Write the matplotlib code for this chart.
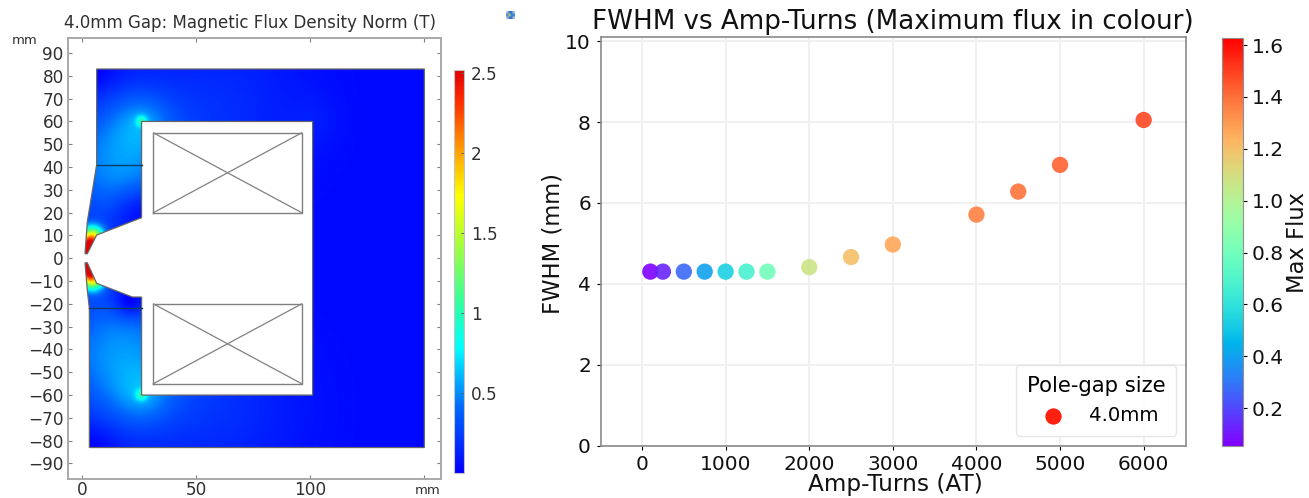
import numpy as np
import matplotlib
matplotlib.use("Agg")
import matplotlib.pyplot as plt
from matplotlib.colors import LinearSegmentedColormap, Normalize
from matplotlib.cm import ScalarMappable
from matplotlib.patches import Polygon

W, H = 1309, 498

# Right panel data
amp_turns = [100, 250, 500, 750, 1000, 1250, 1500, 2000, 2500, 3000, 4000, 4500, 5000, 6000]
fwhm = [4.3, 4.3, 4.3, 4.3, 4.3, 4.3, 4.3, 4.41, 4.66, 4.97, 5.71, 6.28, 6.94, 8.05]
max_flux = [0.056, 0.13, 0.27, 0.40, 0.54, 0.67, 0.80, 1.07, 1.20, 1.27, 1.36, 1.39, 1.43, 1.48]
x_ticks_right = [0, 1000, 2000, 3000, 4000, 5000, 6000]
y_ticks_right = [0, 2, 4, 6, 8, 10]
cbar_ticks_right = [0.2, 0.4, 0.6, 0.8, 1.0, 1.2, 1.4, 1.6]

# Left panel geometry (mm)
iron_x = [6.3, 150, 150, 3.1, 3.1, 2.2, 1.2, 2.2, 6.3, 22, 26, 26, 101, 101, 26, 26, 6.3, 2.2, 1.2, 2.2, 6.3]
iron_y = [83, 83, -83, -83, -22, -14, -2, -2, -11, -17, -17, -60, -60, 60, 60, 17.8, 10.2, 2, 2, 16, 41]
coil_x = [31.2, 96.2]
coil_upper_y = [20, 55]
coil_lower_y = [-55, -20]
seam_y = [41, -22]
seam_x0 = [6.3, 3.1]
seam_x1 = [26, 26]
left_x_ticks = [0, 50, 100, 150]
left_x_labels = ["0", "50", "100", ""]
left_y_ticks = list(range(-90, 91, 10))
left_cbar_ticks = [0.5, 1, 1.5, 2, 2.5]
left_cbar_labels = ["0.5", "1", "1.5", "2", "2.5"]

# Local flux levels seen in the picture: centre (mm), level (T), spread (mm)
spot_x = [2.2, 4.5, 2.2, 4.5, 26, 26, 26, 26, 16, 16, 60, 60, 101, 24, 21, 5, 5]
spot_y = [3.0, 9.0, -3.0, -9.0, 60, -60, 60, -60, 42, -42, 66, -66, 60, 21, -19, 82, -82]
spot_b = [2.3, 1.35, 2.3, 1.35, 0.45, 0.45, 0.20, 0.20, 0.48, 0.48, 0.14, 0.14, 0.05, -0.20, -0.30, -0.10, -0.10]
spot_w = [4.0, 3.6, 4.0, 3.6, 1.7, 1.7, 9, 9, 20, 22, 26, 26, 8, 7, 5, 7, 7]
flux_floor = 0.03

fig = plt.figure(figsize=(W / 100, H / 100), dpi=100)


def px_axes(x0, y_top, x1, y_bot):
    return fig.add_axes([x0 / W, 1 - y_bot / H, (x1 - x0) / W, (y_bot - y_top) / H])


# ------------------------- left panel
TXT = "#303030"
EDGE = "#a9a9a9"
comsol = LinearSegmentedColormap.from_list(
    "comsol",
    [(0, "#0000ff"), (0.16, "#0066ff"), (0.31, "#00ffff"), (0.42, "#30ffa0"), (0.56, "#a0ff40"),
     (0.69, "#ffff00"), (0.80, "#ffa000"), (0.92, "#ff3000"), (1, "#e00000")])
ax = px_axes(68, 38, 441, 479)
ax.set_xlim(-6.27, 157.3)
ax.set_ylim(-96.8, 96.6)
xs = np.linspace(0, 151, 760)
ys = np.linspace(-84, 84, 850)
X, Y = np.meshgrid(xs, ys)
B = np.full(X.shape, flux_floor)
for sx, sy, sb, sw in zip(spot_x, spot_y, spot_b, spot_w):
    B += sb * np.exp(-((X - sx) ** 2 + (Y - sy) ** 2) / (2 * sw ** 2))
B = np.clip(B, 0, 2.52)
im = ax.imshow(B, origin="lower", extent=(xs[0], xs[-1], ys[0], ys[-1]), cmap=comsol, vmin=0, vmax=2.52,
               aspect="auto", interpolation="bilinear", zorder=1)
iron = Polygon(np.column_stack([iron_x, iron_y]), closed=True, fc="none", ec="#666666", lw=0.9, zorder=2)
ax.add_patch(iron)
im.set_clip_path(iron)
for cy in (coil_upper_y, coil_lower_y):
    ax.plot([coil_x[0], coil_x[1], coil_x[1], coil_x[0], coil_x[0]], [cy[0], cy[0], cy[1], cy[1], cy[0]],
            color="#808080", lw=1.0, zorder=3)
    ax.plot([coil_x[0], coil_x[1]], [cy[0], cy[1]], color="#808080", lw=0.9, zorder=3)
    ax.plot([coil_x[0], coil_x[1]], [cy[1], cy[0]], color="#808080", lw=0.9, zorder=3)
for sy, a, b in zip(seam_y, seam_x0, seam_x1):
    ax.plot([a, b], [sy, sy], color="#0b3c66", lw=1.0, zorder=3)
ax.set_xticks(left_x_ticks, left_x_labels)
ax.set_yticks(left_y_ticks)
ax.tick_params(axis="both", which="both", direction="in", length=3, width=0.8, color="#808080",
               labelsize=12.2, labelcolor=TXT, pad=3, top=True, right=True)
ax.tick_params(axis="x", pad=1.5)
for s in ax.spines.values():
    s.set_color(EDGE)
    s.set_linewidth(1.4)
fig.text(249.5 / W, 1 - 23 / H, "4.0mm Gap: Magnetic Flux Density Norm (T)", ha="center", va="center",
         fontsize=12, color=TXT)
fig.text(25 / W, 1 - 40 / H, "mm", ha="center", va="center", fontsize=9.5, color=TXT)
fig.text(428 / W, 1 - 490 / H, "mm", ha="center", va="center", fontsize=9.5, color=TXT)

cax = px_axes(454, 70, 464, 473)
fig.colorbar(im, cax=cax)
cax.set_ylim(0.0, 2.52)
cax.set_yticks(left_cbar_ticks, left_cbar_labels)
cax.tick_params(axis="y", direction="in", length=2, width=0.7, color="#606060", labelsize=12.2,
                labelcolor=TXT, pad=5)
for s in cax.spines.values():
    s.set_color("#c4c4c4")
    s.set_linewidth(0.8)

# small window icon between the panels
iax = px_axes(506, 11, 515, 19)
iax.imshow(np.array([[[.75, .8, .85], [.2, .45, .8], [.2, .45, .8], [.75, .8, .85]],
                     [[.2, .45, .8], [.9, .8, .3], [.1, .6, .9], [.2, .45, .8]],
                     [[.75, .8, .85], [.2, .45, .8], [.2, .45, .8], [.75, .8, .85]]]),
           aspect="auto", interpolation="bilinear")
iax.axis("off")

# ------------------------- right panel
ax2 = px_axes(600.7, 37.5, 1185.7, 445.5)
norm = Normalize(0.056, 1.627)
sc = ax2.scatter(amp_turns, fwhm, c=max_flux, cmap="rainbow", norm=norm, s=138, alpha=0.9, lw=0, zorder=3)
ax2.scatter([], [], c="#ff2010", s=138, lw=0, label="4.0mm")
ax2.set_xlim(-494, 6503)
ax2.set_ylim(0, 10.09)
ax2.set_xticks(x_ticks_right)
ax2.set_yticks(y_ticks_right)
ax2.grid(True, color="#f0f0f0", lw=1.4)
ax2.set_axisbelow(True)
ax2.tick_params(labelsize=14.5, length=3, width=0.8, pad=4, labelcolor="#111111")
for s in ax2.spines.values():
    s.set_color("#8a8a8a")
    s.set_linewidth(1.2)
fig.text(893 / W, 1 - 22 / H, "FWHM vs Amp-Turns (Maximum flux in colour)", ha="center", va="center", fontsize=18.8,
         color="#111111")
fig.text(895 / W, 1 - 484 / H, "Amp-Turns (AT)", ha="center", va="center", fontsize=16.7, color="#111111")
fig.text(553 / W, 1 - 243 / H, "FWHM (mm)", ha="center", va="center", rotation=90, fontsize=16.3, color="#111111")
fig.text(1298 / W, 1 - 242 / H, "Max Flux", ha="center", va="center", rotation=90, fontsize=16.3, color="#111111")
leg = ax2.legend(title="Pole-gap size", loc="lower right", fontsize=14.2, title_fontsize=15.2,
                 bbox_to_anchor=(1176 / W, 1 - 436 / H), bbox_transform=fig.transFigure, borderaxespad=0,
                 framealpha=0.9, edgecolor="#e4e4e4", borderpad=0.55)

cax2 = px_axes(1222.3, 38, 1243, 445.5)
sm = ScalarMappable(norm=norm, cmap="rainbow")
fig.colorbar(sm, cax=cax2)
cax2.set_yticks(cbar_ticks_right)
cax2.tick_params(labelsize=14.5, length=3, width=0.8, pad=3, labelcolor="#111111")
for s in cax2.spines.values():
    s.set_color("#909090")
    s.set_linewidth(0.8)

fig.savefig("out.png", dpi=100)
